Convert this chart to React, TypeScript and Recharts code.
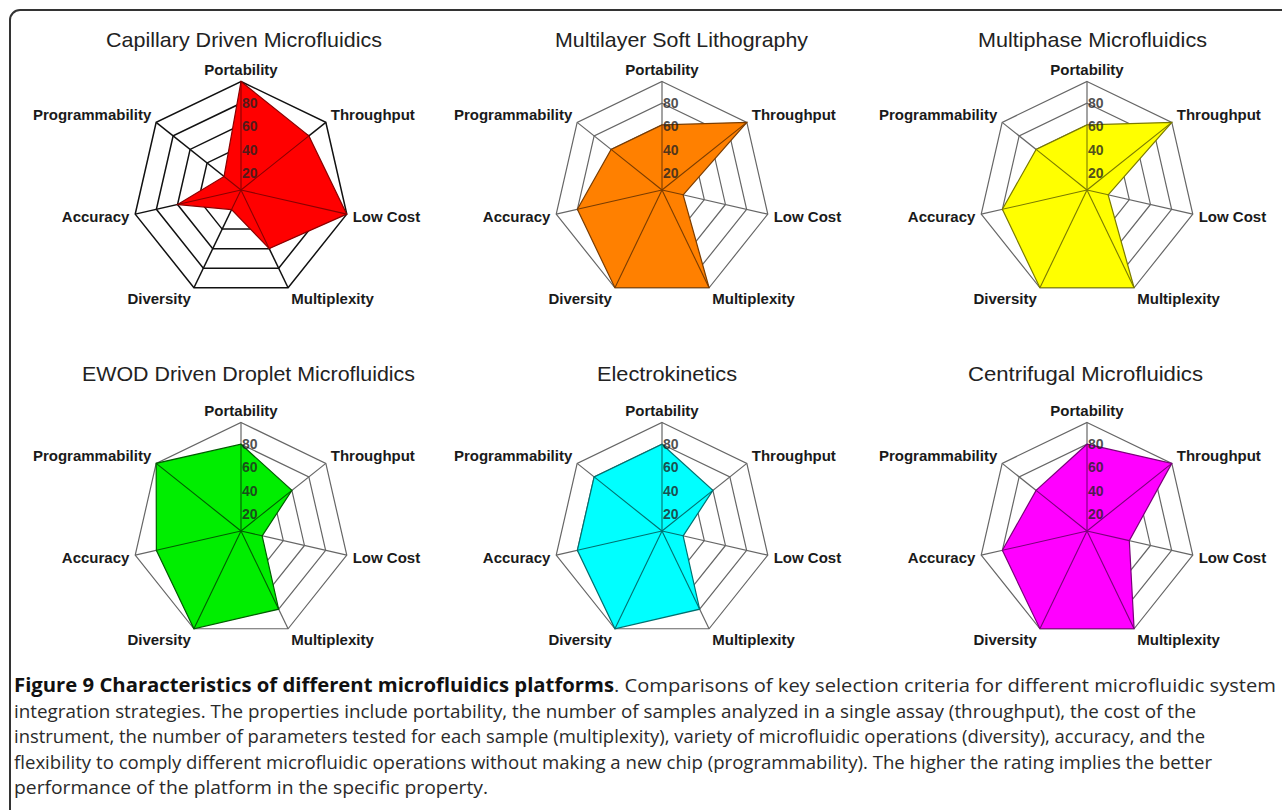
import React from 'react';
import { RadarChart, Radar, PolarGrid, PolarAngleAxis, PolarRadiusAxis } from 'recharts';

// ---------- data ----------
const categories = ['Portability', 'Throughput', 'Low Cost', 'Multiplexity', 'Diversity', 'Accuracy', 'Programmability'];
const capillaryValues = [100, 80, 100, 60, 20, 60, 20];
const multilayerValues = [60, 100, 20, 100, 100, 80, 60];
const multiphaseValues = [60, 100, 20, 100, 100, 80, 60];
const ewodValues = [80, 60, 20, 80, 100, 80, 100];
const electrokineticsValues = [80, 60, 20, 80, 100, 80, 80];
const centrifugalValues = [80, 100, 40, 100, 100, 80, 60];
const radiusTicks = [0, 20, 40, 60, 80, 100];
const shownRadiusLabels = [20, 40, 60, 80];
const panelTitles = [
  'Capillary Driven Microfluidics',
  'Multilayer Soft Lithography',
  'Multiphase Microfluidics',
  'EWOD Driven Droplet Microfluidics',
  'Electrokinetics',
  'Centrifugal Microfluidics',
];
const panelValues = [capillaryValues, multilayerValues, multiphaseValues, ewodValues, electrokineticsValues, centrifugalValues];

const captionBold = 'Figure 9 Characteristics of different microfluidics platforms';
const captionLines = [
  '. Comparisons of key selection criteria for different microfluidic system',
  'integration strategies. The properties include portability, the number of samples analyzed in a single assay (throughput), the cost of the',
  'instrument, the number of parameters tested for each sample (multiplexity), variety of microfluidic operations (diversity), accuracy, and the',
  'flexibility to comply different microfluidic operations without making a new chip (programmability). The higher the rating implies the better',
  'performance of the platform in the specific property.',
];

// ---------- styles / layout ----------
const panelStyles = [
  { fill: '#ff0000', stroke: '#8a0000', grid: '#111111', gridWidth: 1.5 },
  { fill: '#ff8000', stroke: '#7a3c00', grid: '#666666', gridWidth: 1.2 },
  { fill: '#ffff00', stroke: '#7a7a00', grid: '#666666', gridWidth: 1.2 },
  { fill: '#00ee00', stroke: '#005c00', grid: '#666666', gridWidth: 1.2 },
  { fill: '#00ffff', stroke: '#007070', grid: '#666666', gridWidth: 1.2 },
  { fill: '#ff00ff', stroke: '#7a007a', grid: '#666666', gridWidth: 1.2 },
];
const panelCenters = [
  { x: 240.5, y: 189.5 },
  { x: 662, y: 189.5 },
  { x: 1087, y: 189.5 },
  { x: 240.5, y: 531 },
  { x: 662, y: 531 },
  { x: 1087, y: 531 },
];
const titleLayout = [
  { x: 106, w: 276, y: 46.5 },
  { x: 555, w: 253, y: 46.5 },
  { x: 978, w: 229, y: 46.5 },
  { x: 82, w: 333, y: 381 },
  { x: 597, w: 140, y: 381 },
  { x: 968, w: 235, y: 381 },
];
const captionBoldLayout = { x: 14, w: 600, y: 692 };
const captionLayout = [
  { x: 614, w: 662, y: 692 },
  { x: 14, w: 1182, y: 717.5 },
  { x: 14, w: 1191, y: 743 },
  { x: 14, w: 1198, y: 768.5 },
  { x: 14, w: 474, y: 794 },
];

const CW = 440;
const CH = 330;
const CCX = 220;
const CCY = 165;
const R = 108.5;
const FONT = "'Liberation Sans', Arial, sans-serif";

const makeAngleTick = () => (props: any) => {
  const { payload } = props;
  const idx = categories.indexOf(payload.value);
  const ang = ((90 - (idx * 360) / categories.length) * Math.PI) / 180;
  const c = Math.cos(ang);
  const s = Math.sin(ang);
  const vx = CCX + R * c;
  const vy = CCY - R * s;
  let anchor: 'start' | 'end' | 'middle' = 'middle';
  let x = vx;
  if (c > 0.01) {
    anchor = 'start';
    x = vx + 5 * c + 1;
  } else if (c < -0.01) {
    anchor = 'end';
    x = vx + 5 * c - 1;
  }
  const yc = vy - 12 * s;
  return (
    <text x={x} y={yc + 5.3} textAnchor={anchor} fontFamily={FONT} fontWeight={700} fontSize={15} fill="#1a1a1a">
      {payload.value}
    </text>
  );
};

const RadiusTick = (props: any) => {
  const { x, y, payload } = props;
  if (!shownRadiusLabels.includes(payload.value)) return <g />;
  const dy = 6.5 - 0.09 * payload.value + 5;
  return (
    <text
      x={x + 1}
      y={y + dy}
      textAnchor="start"
      fontFamily={FONT}
      fontWeight={700}
      fontSize={14}
      fill="#222"
      fillOpacity={0.8}
    >
      {payload.value}
    </text>
  );
};

const makeShape = (fill: string, stroke: string) => (props: any) => {
  const pts: any[] = props.points || [];
  if (!pts.length) return <g />;
  const d = pts.map((p, i) => `${i ? 'L' : 'M'}${p.x},${p.y}`).join(' ') + ' Z';
  return (
    <g>
      <path d={d} fill={fill} stroke={stroke} strokeWidth={1.2} strokeLinejoin="miter" />
      {pts.map((p, i) => (
        <line key={i} x1={p.cx ?? CCX} y1={p.cy ?? CCY} x2={p.x} y2={p.y} stroke={stroke} strokeWidth={1.1} />
      ))}
    </g>
  );
};

function Panel({ index }: { index: number }) {
  const values = panelValues[index];
  const st = panelStyles[index];
  const center = panelCenters[index];
  const data = categories.map((c, i) => ({ axis: c, value: values[i] }));
  return (
    <div style={{ position: 'absolute', left: center.x - CCX, top: center.y - CCY, width: CW, height: CH }}>
      <RadarChart width={CW} height={CH} data={data} cx={CCX} cy={CCY} outerRadius={R} startAngle={90} endAngle={-270}>
        <PolarGrid gridType="polygon" radialLines stroke={st.grid} strokeWidth={st.gridWidth} strokeOpacity={1} />
        <PolarAngleAxis dataKey="axis" tick={makeAngleTick()} tickLine={false} axisLine={false} />
        <Radar
          dataKey="value"
          isAnimationActive={false}
          fill={st.fill}
          stroke={st.stroke}
          fillOpacity={1}
          shape={makeShape(st.fill, st.stroke)}
        />
        <PolarRadiusAxis
          angle={90}
          domain={[0, 100]}
          ticks={radiusTicks as any}
          tickCount={6}
          axisLine={false}
          tickLine={false}
          tick={RadiusTick}
        />
      </RadarChart>
    </div>
  );
}

export default function App() {
  return (
    <div
      style={{
        position: 'absolute',
        left: 0,
        top: 0,
        width: 1282,
        height: 810,
        overflow: 'hidden',
        background: '#ffffff',
      }}
    >
      <div
        style={{
          position: 'absolute',
          left: 9,
          top: 9,
          width: 1300,
          height: 820,
          border: '2px solid #333',
          borderRadius: 11,
          boxSizing: 'border-box',
        }}
      />
      {panelTitles.map((_, i) => (
        <Panel key={i} index={i} />
      ))}
      <svg width={1282} height={810} style={{ position: 'absolute', left: 0, top: 0, pointerEvents: 'none' }}>
        {panelTitles.map((t, i) => (
          <text
            key={i}
            x={titleLayout[i].x}
            y={titleLayout[i].y}
            textLength={titleLayout[i].w}
            lengthAdjust="spacingAndGlyphs"
            fontFamily={FONT}
            fontSize={21}
            fill="#222"
          >
            {t}
          </text>
        ))}
        <text
          x={captionBoldLayout.x}
          y={captionBoldLayout.y}
          textLength={captionBoldLayout.w}
          lengthAdjust="spacingAndGlyphs"
          fontFamily="'Open Sans', 'Noto Sans', sans-serif"
          fontWeight={700}
          fontSize={19}
          fill="#111"
        >
          {captionBold}
        </text>
        {captionLines.map((line, i) => (
          <text
            key={i}
            x={captionLayout[i].x}
            y={captionLayout[i].y}
            textLength={captionLayout[i].w}
            lengthAdjust="spacingAndGlyphs"
            fontFamily="'Open Sans', 'Noto Sans', sans-serif"
            fontSize={19}
            fill="#2a2a2a"
          >
            {line}
          </text>
        ))}
      </svg>
    </div>
  );
}
